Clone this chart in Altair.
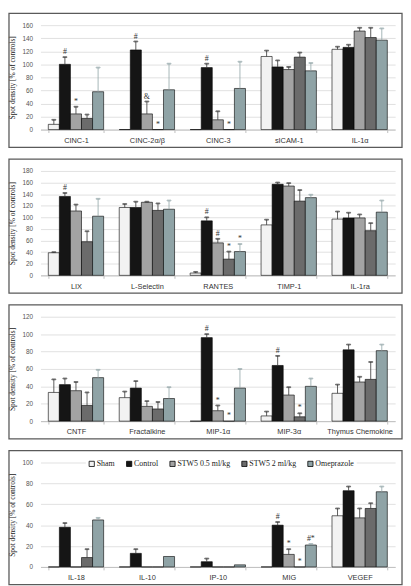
import altair as alt
import pandas as pd

SERIES = ["Sham", "Control", "STW5 0.5 ml/kg", "STW5 2 ml/kg", "Omeprazole"]
COLORS = ["#f2f2f2", "#151515", "#a3a3a3", "#6b6b6b", "#8fa3a6"]

# Panel 1
P1_CATS = ["CINC-1", "CINC-2α/β", "CINC-3", "sICAM-1", "IL-1α"]
P1_MEAN = [[8, 100, 24, 17, 58], [0, 122, 24, 0, 61], [0, 95, 15, 0, 63],
           [112, 96, 92, 111, 90], [123, 126, 151, 141, 137]]
P1_ERR = [[15, 111, 35, 23, 95], [None, 135, 43, None, 101], [None, 101, 28, None, 104],
          [121, 106, 96, 118, 102], [127, 130, 156, 156, 155]]
P1_ANN = [["", "#", "*", "", ""], ["", "#", "&", "*", ""], ["", "#", "", "*", ""],
          ["", "", "", "", ""], ["", "", "", "", ""]]
P1_TICKS = [0, 20, 40, 60, 80, 100, 120, 140, 160]

# Panel 2
P2_CATS = ["LIX", "L-Selectin", "RANTES", "TIMP-1", "IL-1ra"]
P2_MEAN = [[39, 136, 111, 58, 102], [117, 117, 126, 112, 114], [4, 94, 56, 28, 41],
           [87, 157, 154, 128, 134], [97, 99, 99, 77, 109]]
P2_ERR = [[40, 142, 122, 76, 132], [123, 127, 127, 124, 129], [6, 100, 63, 41, 54],
          [96, 160, 159, 147, 139], [110, 108, 105, 90, 129]]
P2_ANN = [["", "#", "", "", ""], ["", "", "", "", ""], ["", "#", "#", "*", "*"],
          ["", "", "", "", ""], ["", "", "", "", ""]]
P2_TICKS = [0, 20, 40, 60, 80, 100, 120, 140, 160, 180]

# Panel 3
P3_CATS = ["CNTF", "Fractalkine", "MIP-1α", "MIP-3α", "Thymus Chemokine"]
P3_MEAN = [[33, 42, 35, 18, 50], [27, 38, 17, 14, 26], [0, 96, 12, 0, 38],
           [6, 64, 30, 5, 40], [32, 82, 45, 48, 81]]
P3_ERR = [[48, 49, 45, 33, 59], [34, 46, 23, 22, 39], [None, 100, 18, None, 60],
          [11, 75, 39, 9, 49], [42, 88, 51, 68, 88]]
P3_ANN = [["", "", "", "", ""], ["", "", "", "", ""], ["", "#", "*", "*", ""],
          ["", "#", "", "*", ""], ["", "", "", "", ""]]
P3_TICKS = [0, 20, 40, 60, 80, 100, 120]

# Panel 4
P4_CATS = ["IL-18", "IL-10", "IP-10", "MIG", "VEGEF"]
P4_MEAN = [[0, 38, 0, 9, 45], [0, 13, 0, 0, 10], [0, 5, 0, 0, 2],
           [0, 40, 12, 0, 21], [49, 73, 47, 56, 72]]
P4_ERR = [[None, 42, None, 17, 47], [None, 17, None, None, None], [None, 8, None, None, None],
          [None, 43, 17, None, 22], [56, 77, 56, 61, 77]]
P4_ANN = [["", "", "", "", ""], ["", "", "", "", ""], ["", "", "", "", ""],
          ["", "#", "*", "*", "#*"], ["", "", "", "", ""]]
P4_TICKS = [0, 20, 40, 60, 80, 100]

W, H = 360, 106
SANS = "Liberation Sans"
SERIF = "Liberation Serif"


def panel(cats, means, errs, anns, ticks, legend):
    rows = []
    for ci, c in enumerate(cats):
        for si, s in enumerate(SERIES):
            e = errs[ci][si]
            v = means[ci][si]
            rows.append({"cat": c, "series": s, "value": v, "err": e,
                         "ann": anns[ci][si], "ty": e if e is not None else v})
    df = pd.DataFrame(rows)
    x = alt.X("cat:N", sort=cats,
              scale=alt.Scale(paddingInner=0.22, paddingOuter=0.11),
              axis=alt.Axis(title=None, labelAngle=0, tickBand="extent", grid=False,
                            domainColor="#bfbfbf", tickColor="#bfbfbf", tickSize=3,
                            labelFont=SANS, labelFontSize=7.5, labelColor="#333",
                            labelPadding=4))
    xo = alt.XOffset("series:N", sort=SERIES,
                     scale=alt.Scale(paddingInner=0, paddingOuter=0))
    ymax = ticks[-1]
    yscale = alt.Scale(domain=[0, ymax], nice=False, zero=True)
    yaxis = alt.Axis(values=ticks, title="Spot density [% of controls]",
                     grid=True, gridColor="#d9d9d9", gridWidth=0.8,
                     domain=False, ticks=False, labelFont=SANS,
                     labelFontSize=6.5, labelColor="#555", labelOverlap=False,
                     labelPadding=8, titleFont=SERIF, titleFontSize=7.5,
                     titleFontWeight="normal", titleColor="#222",
                     titlePadding=6)
    base = alt.Chart(df)
    legend_spec = None
    if legend:
        legend_spec = alt.Legend(title=None, orient="none", legendX=46, legendY=-5,
                                 direction="horizontal", symbolType="square",
                                 symbolSize=28, symbolStrokeColor="black",
                                 symbolStrokeWidth=0.8, labelFont=SERIF,
                                 labelFontSize=8, labelColor="#222",
                                 columnPadding=9, symbolOffset=0, labelOffset=1,
                                 fillColor="white", padding=2)
    bars = base.mark_bar(stroke="black", strokeWidth=0.6).encode(
        x=x, xOffset=xo,
        y=alt.Y("value:Q", scale=yscale, axis=yaxis),
        color=alt.Color("series:N", sort=SERIES,
                        scale=alt.Scale(domain=SERIES, range=COLORS),
                        legend=legend_spec),
    )
    estroke = alt.condition(alt.datum.series == "Omeprazole",
                            alt.value("#8fa3a6"), alt.value("#333333"))
    rules = base.transform_filter("isValid(datum.err)").mark_rule(strokeWidth=0.8).encode(
        x=x, xOffset=xo, y=alt.Y("value:Q", scale=yscale, axis=yaxis), y2="err:Q",
        stroke=estroke)
    caps = base.transform_filter("isValid(datum.err)").mark_tick(
        size=4, thickness=0.8).encode(
        x=x, xOffset=xo, y=alt.Y("err:Q", scale=yscale, axis=yaxis), stroke=estroke,
        fill=estroke)
    texts = base.transform_filter("datum.ann != ''").mark_text(
        font=SERIF, fontSize=8, fill="#333", dy=-5).encode(
        x=x, xOffset=xo, y=alt.Y("ty:Q", scale=yscale, axis=yaxis), text="ann:N")
    frame = alt.Chart(pd.DataFrame({"f": [0]})).mark_rect(
        fill=None, stroke="#5a5a5a", strokeWidth=1.3).encode(
        x=alt.value(-32), x2=alt.value(W + 7), y=alt.value(-12), y2=alt.value(H + 18))
    return alt.layer(frame, bars, rules, caps, texts).properties(width=W, height=H)


chart = alt.vconcat(
    panel(P1_CATS, P1_MEAN, P1_ERR, P1_ANN, P1_TICKS, False),
    panel(P2_CATS, P2_MEAN, P2_ERR, P2_ANN, P2_TICKS, False),
    panel(P3_CATS, P3_MEAN, P3_ERR, P3_ANN, P3_TICKS, False),
    panel(P4_CATS, P4_MEAN, P4_ERR, P4_ANN, P4_TICKS, True),
    spacing=10,
).resolve_scale(color="independent", x="independent", y="independent").configure_view(
    stroke=None).properties(padding=0, background="white")

chart.save("out.html", embed_options={"renderer": "svg", "actions": False})
